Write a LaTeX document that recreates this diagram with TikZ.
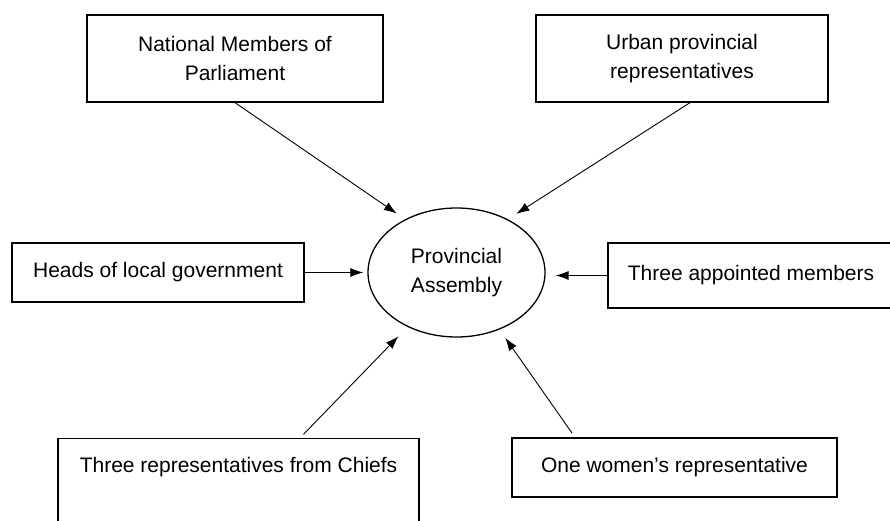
\documentclass[tikz,border=0pt]{standalone}
\usepackage{fontspec}
\setmainfont{Liberation Sans}
\usetikzlibrary{arrows.meta, shapes.geometric}

\begin{document}
\begin{tikzpicture}[
  x=1pt, y=-1pt,
  font=\fontsize{21}{29}\selectfont,
  box/.style={rectangle, draw, line width=1.3pt, inner sep=0pt, align=center},
  hub/.style={ellipse, draw, line width=1.3pt, inner sep=0pt, align=center,
              minimum width=177pt, minimum height=129pt},
  arr/.style={-{Latex[length=13pt, width=9pt]}, line width=0.9pt}
]
  \useasboundingbox (0,0) rectangle (890,521);
  \clip (0,0) rectangle (890,521);

  \node[hub] (assembly) at (456.5,272.5) {Provincial\\Assembly};

  % Boxes around the assembly
  \node[box, minimum width=296pt, minimum height=87pt] (national) at (235,58.5)
       {National Members of\\Parliament};
  \node[box, minimum width=292pt, minimum height=87pt] (urban) at (682,58.5)
       {Urban provincial\\representatives};
  \node[box, minimum width=292pt, minimum height=59pt] (heads) at (158,272.5)
       {Heads of local government};
  \node[box, minimum width=286pt, minimum height=65pt] (appointed) at (751,275.5)
       {Three appointed members};
  \node[box, anchor=north, minimum width=361pt, text height=34pt, text depth=100pt]
       (chiefs) at (238.5,438) {Three representatives from Chiefs};
  \node[box, minimum width=325pt, minimum height=59pt] (women) at (674.5,467.5)
       {One women's representative};

  \draw[arr, shorten >=10pt] (national.south) -- (assembly.134);
  \draw[arr, shorten >=10pt] ([xshift=8pt]urban.south) -- (assembly.46);
  \draw[arr, shorten >=4pt] (heads.east) -- (assembly.west);
  \draw[arr, shorten >=10pt] (appointed.west) -- (assembly.east |- appointed.west);
  \draw[arr, shorten <=5pt, shorten >=13pt] ([xshift=61.5pt]chiefs.north) -- (assembly.228);
  \draw[arr, shorten <=5pt, shorten >=10pt] ([xshift=-99.5pt]women.north) -- (assembly.307);

\end{tikzpicture}
\end{document}
